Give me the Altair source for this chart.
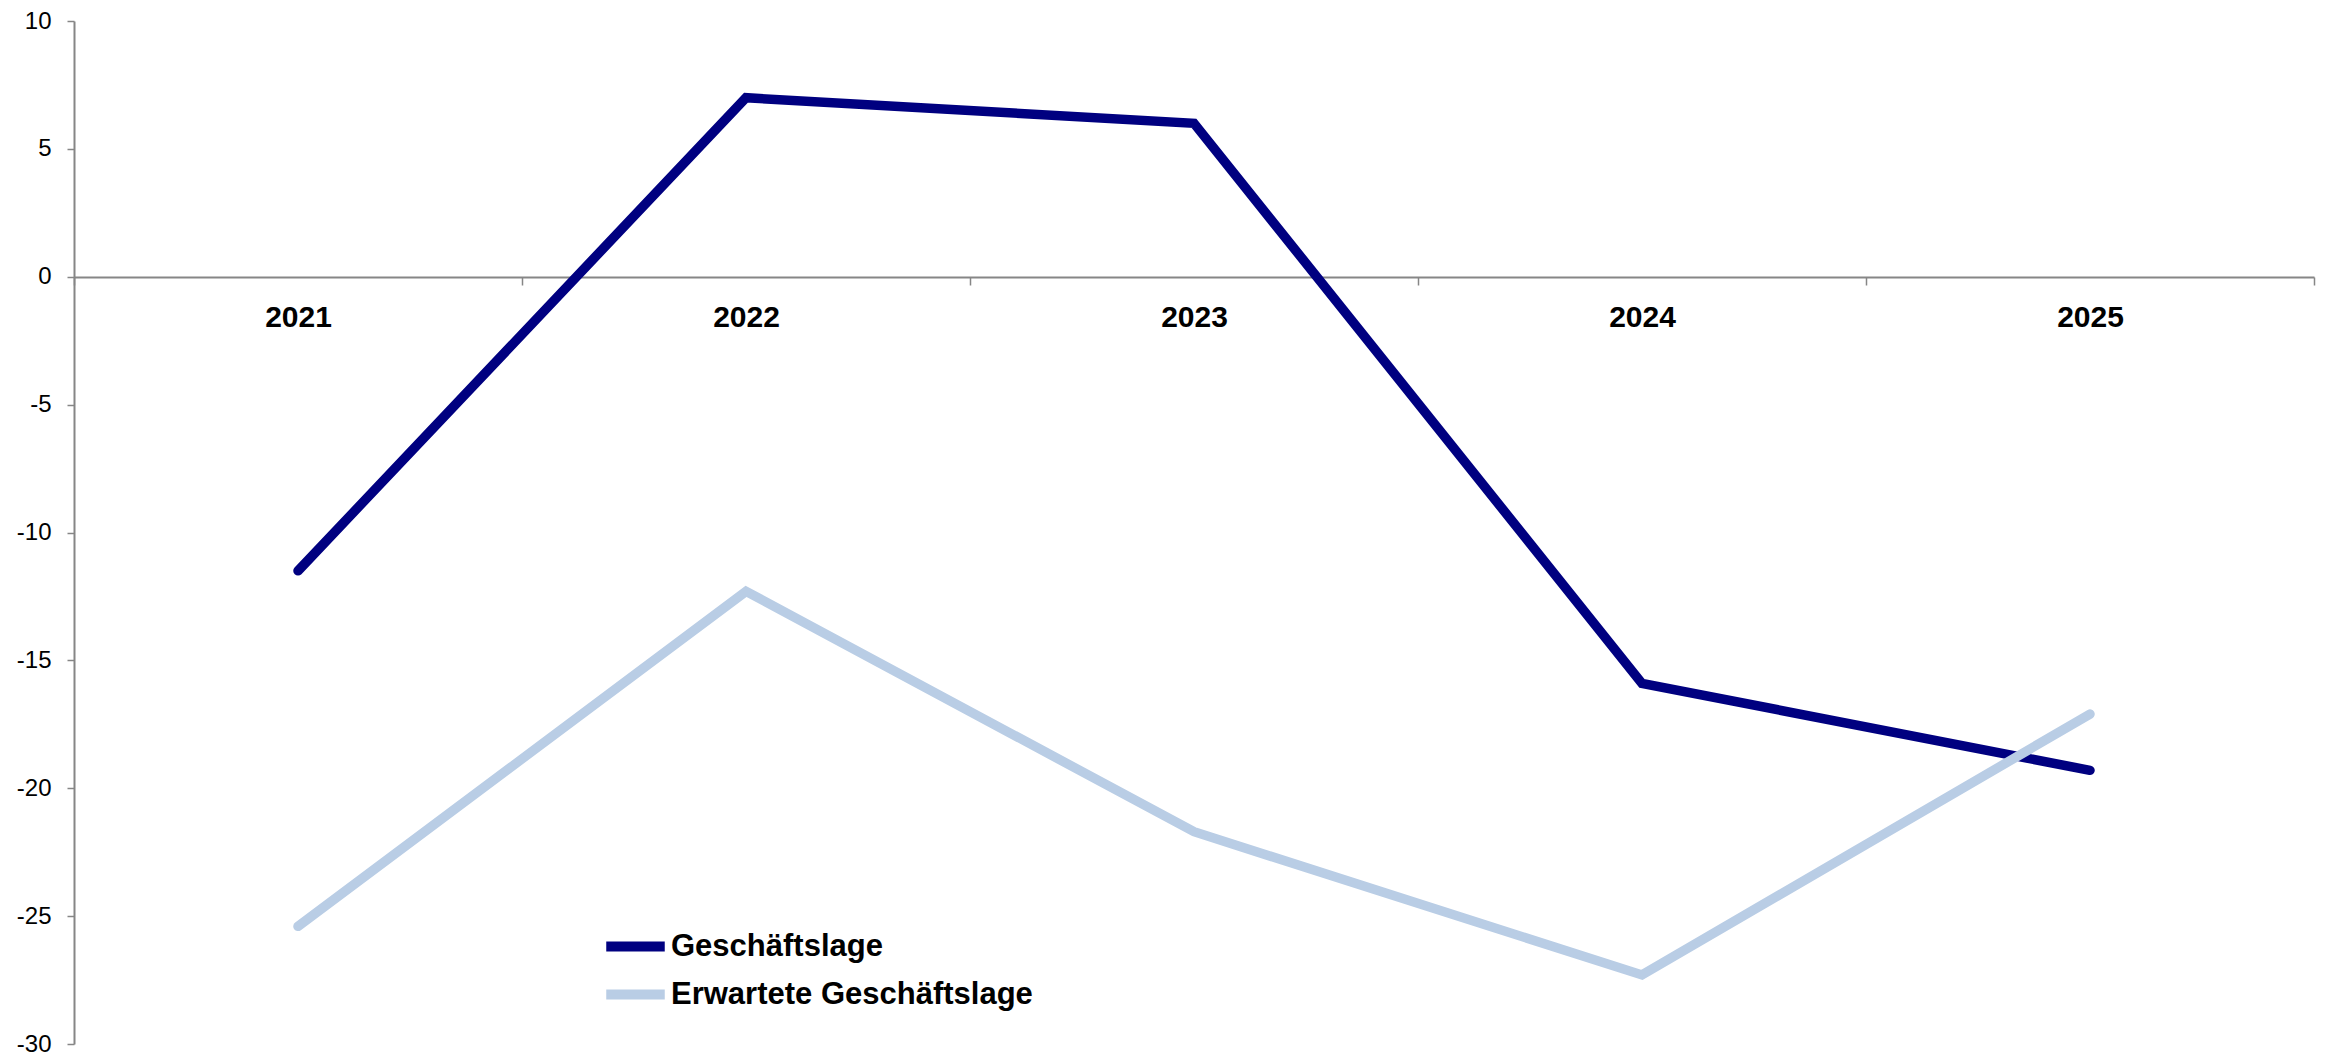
import altair as alt
import pandas as pd

years = ["2021", "2022", "2023", "2024", "2025"]
series_names = ["Geschäftslage", "Erwartete Geschäftslage"]
geschaeftslage = [-11.5, 7.0, 6.0, -15.9, -19.3]
erwartete = [-25.4, -12.3, -21.7, -27.3, -17.1]
y_ticks = [10, 5, 0, -5, -10, -15, -20, -25, -30]
colors = ["#000080", "#B9CDE5"]

rows = []
for name, vals in zip(series_names, [geschaeftslage, erwartete]):
    for i, (yr, v) in enumerate(zip(years, vals)):
        rows.append({"Jahr": yr, "Wert": v, "Reihe": name, "ord": i})
df = pd.DataFrame(rows)

W, H = 2240, 1023
zero_offset = -round(H * 30 / 40)

chart = alt.Chart(df).mark_line(strokeWidth=9.5, strokeCap="round", strokeJoin="miter").encode(
    x=alt.X("Jahr:N", sort=years, bandPosition=0.5,
            scale=alt.Scale(type="band", paddingInner=0, paddingOuter=0),
            axis=alt.Axis(title=None, offset=zero_offset, tickBand="extent",
                          domainColor="#868686", domainWidth=2, tickColor="#868686",
                          tickWidth=1.5, tickSize=8, labelAngle=0,
                          labelFont="Liberation Sans", labelFontSize=30, labelFontWeight="bold",
                          labelColor="#000000", labelPadding=17, labelBaseline="top",
                          grid=False)),
    y=alt.Y("Wert:Q",
            scale=alt.Scale(domain=[-30, 10], nice=False, zero=False),
            axis=alt.Axis(title=None, values=y_ticks, labelExpr="datum.value + ''",
                          domainColor="#868686", domainWidth=2, tickColor="#868686",
                          tickWidth=1.5, tickSize=7, labelFont="Liberation Sans",
                          labelFontSize=24, labelColor="#000000", labelPadding=16,
                          grid=False)),
    color=alt.Color("Reihe:N",
                    scale=alt.Scale(domain=series_names, range=colors),
                    legend=alt.Legend(title=None, orient="none", legendX=534, legendY=898,
                                      symbolType="M-1.3,0H1.3", symbolSize=2025,
                                      symbolStrokeWidth=10, labelFont="Liberation Sans",
                                      labelFontSize=31, labelFontWeight="bold",
                                      labelColor="#000000", labelOffset=8,
                                      rowPadding=0, padding=0, labelLimit=700)),
    order=alt.Order("ord:Q"),
).properties(
    width=W, height=H,
    background="white",
    autosize=alt.AutoSizeParams(type="none"),
    padding={"left": 66, "top": 13, "right": 6, "bottom": 13},
).configure_view(stroke=None, strokeWidth=0)

chart.save("out.html", embed_options={"renderer": "svg", "actions": False})
